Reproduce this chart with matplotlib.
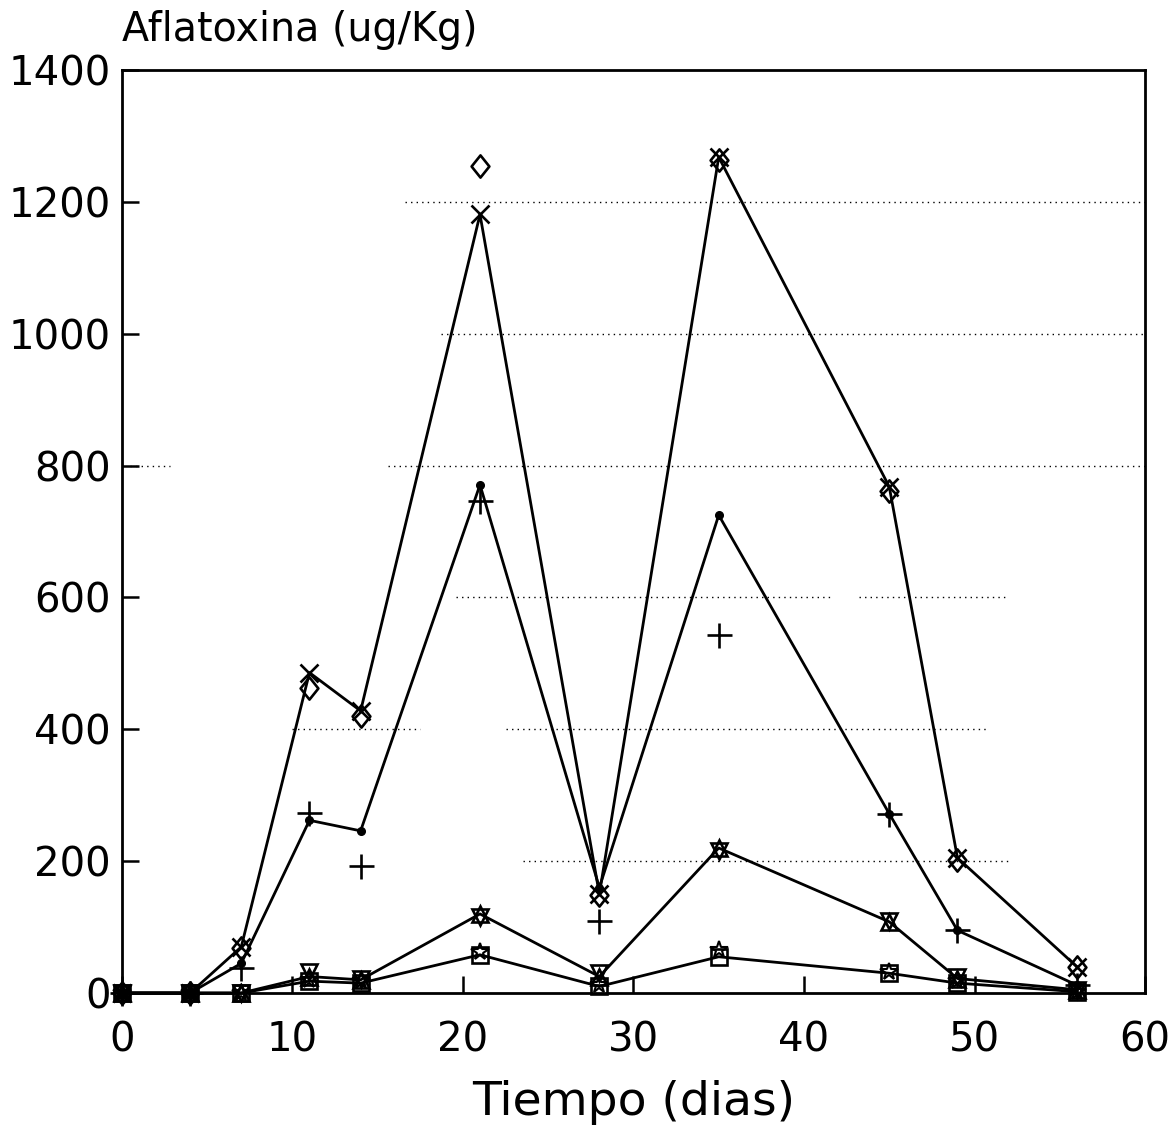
import matplotlib.pyplot as plt
from matplotlib.path import Path

# sampling days
dias = [0, 4, 7, 11, 14, 21, 28, 35, 45, 49, 56]

# highest group: connected series (x) and replicate (diamond)
serie_a = [0, 0, 70, 486, 428, 1181, 150, 1268, 768, 205, 40]
serie_a_rep = [0, 0, 68, 463, 420, 1255, 148, 1264, 762, 202, 40]

# second group: connected series (dot) and replicate (plus)
serie_b = [0, 0, 45, 262, 246, 771, 160, 725, 272, 95, 12]
serie_b_rep = [0, 0, 38, 273, 192, 746, 109, 543, 272, 95, 12]

# third group: triangles
serie_c = [0, 0, 0, 25, 20, 120, 25, 220, 108, 22, 5]
serie_c_rep = [0, 0, 0, 32, 22, 115, 30, 215, 110, 25, 5]

# lowest group: squares and asterisks
serie_d = [0, 0, 0, 18, 15, 58, 10, 55, 30, 15, 2]
serie_d_rep = [0, 0, 0, 20, 18, 62, 12, 65, 32, 18, 2]

yticks = [0, 200, 400, 600, 800, 1000, 1200, 1400]
xticks = [0, 10, 20, 30, 40, 50, 60]

# dotted reference lines, drawn only over parts of the plot
grid_segments = [
    (1200, 16.6, 60), (1000, 18.7, 60),
    (800, 0.5, 2.8), (800, 15.6, 60),
    (600, 19.6, 41.6), (600, 43.2, 52),
    (400, 10.0, 17.5), (400, 22.5, 50.8),
    (200, 23.5, 52),
]

# slightly wide diamond marker
rombo = Path([(-0.8, 0), (0, 1), (0.8, 0), (0, -1), (-0.8, 0)],
             [Path.MOVETO, Path.LINETO, Path.LINETO, Path.LINETO, Path.CLOSEPOLY])

plt.rcParams['font.family'] = 'DejaVu Sans'

fig = plt.figure(figsize=(11.72, 11.31), dpi=100)
ax = fig.add_axes([0.104, 0.122, 0.873, 0.816])

for yv, x0, x1 in grid_segments:
    ax.plot([x0, x1], [yv, yv], color='black', lw=1.0, ls=(0, (1, 3)), zorder=1)

lw = 2.0
mw = 1.9
ax.plot(dias, serie_a, color='black', lw=lw, marker='x', ms=13, mew=mw, clip_on=False, zorder=3)
ax.plot(dias, serie_a_rep, ls='none', marker=rombo, ms=16, mew=mw, mfc='none', mec='black', clip_on=False, zorder=3)

ax.plot(dias, serie_b, color='black', lw=lw, marker='o', ms=5.5, clip_on=False, zorder=3)
ax.plot(dias, serie_b_rep, ls='none', marker='+', ms=18, mew=mw, color='black', clip_on=False, zorder=3)

ax.plot(dias, serie_c, color='black', lw=lw, marker='^', ms=12, mew=mw, mfc='none', mec='black', clip_on=False, zorder=3)
ax.plot(dias, serie_c_rep, ls='none', marker='v', ms=12, mew=mw, mfc='none', mec='black', clip_on=False, zorder=3)

ax.plot(dias, serie_d, color='black', lw=lw, marker='s', ms=11, mew=mw, mfc='none', mec='black', clip_on=False, zorder=3)
ax.plot(dias, serie_d_rep, ls='none', marker='*', ms=13, mew=1.5, mfc='none', mec='black', clip_on=False, zorder=3)

ax.set_xlim(0, 60)
ax.set_ylim(0, 1400)
ax.set_xticks(xticks)
ax.set_yticks(yticks)
ax.tick_params(axis='both', direction='in', length=12, width=1.8, labelsize=29)
ax.tick_params(axis='x', pad=20)
ax.tick_params(axis='y', pad=8)
for sp in ax.spines.values():
    sp.set_linewidth(2.0)

ax.set_xlabel('Tiempo (dias)', fontsize=34, labelpad=14)
ax.text(0.0, 1.022, 'Aflatoxina (ug/Kg)', transform=ax.transAxes,
        ha='left', va='bottom', fontsize=28.5)

fig.savefig('out.png', dpi=100)
